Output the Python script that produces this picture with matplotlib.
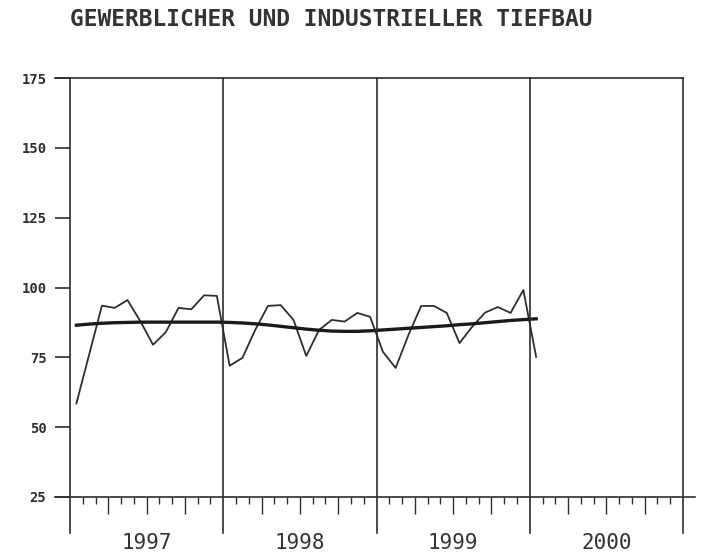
import numpy as np
import matplotlib
matplotlib.use("Agg")
import matplotlib.pyplot as plt

# monthly index values, Jan 1997 .. Jan 2000 (plotted at mid-month)
werte = [58.5, 76, 93.5, 92.7, 95.5, 88, 79.5, 84, 92.7, 92.2, 97.2, 97,
         72, 74.8, 84.8, 93.4, 93.7, 88.4, 75.5, 84.8, 88.4, 87.8, 90.9, 89.5,
         77, 71.2, 83, 93.4, 93.4, 90.9, 80.1, 86, 91, 93, 90.9, 99.1,
         75.2]
trend = [86.5, 86.9, 87.2, 87.4, 87.5, 87.6, 87.6, 87.6, 87.6, 87.6, 87.6, 87.6,
         87.5, 87.3, 87.0, 86.6, 86.1, 85.6, 85.1, 84.7, 84.4, 84.3, 84.3, 84.5,
         84.8, 85.1, 85.4, 85.7, 86.0, 86.3, 86.7, 87.0, 87.4, 87.8, 88.2, 88.5,
         88.8]
jahre = ["1997", "1998", "1999", "2000"]
y_ticks = [25, 50, 75, 100, 125, 150, 175]
titel = "GEWERBLICHER UND INDUSTRIELLER TIEFBAU"

farbe = "#2e2e2e"
mono = "DejaVu Sans Mono"

W, H = 701, 557
fig = plt.figure(figsize=(W / 100, H / 100), dpi=100)
ax = fig.add_axes([70 / W, 60 / H, 613 / W, 419 / H])

x = np.arange(len(werte)) + 0.5
ax.plot(x, werte, color=farbe, lw=1.3)
ax.plot(x, trend, color="#1a1a1a", lw=2.4)

ax.set_xlim(0, 48)
ax.set_ylim(25, 175)

for s in ax.spines.values():
    s.set_visible(False)

# year separators, reaching below the axis
for m in [0, 12, 24, 36, 48]:
    ax.axvline(m, ymin=-36 / 419, ymax=1, color=farbe, lw=1.2, clip_on=False)
# top and bottom lines
ax.plot([-15 / 613 * 48, 48], [175, 175], color=farbe, lw=1.2, clip_on=False)
ax.plot([-15 / 613 * 48, 48 + 12 / 613 * 48], [25, 25], color=farbe, lw=1.2, clip_on=False)

ax.set_yticks(y_ticks)
ax.tick_params(axis="y", direction="out", length=11, width=1.2, color=farbe,
               labelsize=10, labelcolor=farbe, pad=6)
for lab in ax.get_yticklabels():
    lab.set_family(mono)
    lab.set_fontweight("bold")

# monthly ticks below the axis, quarters longer
monate = [m for m in range(48) if m % 12 != 0]
kurz = [m for m in monate if m % 3 != 0]
lang = [m for m in monate if m % 3 == 0]
ax.set_xticks(kurz)
ax.set_xticks(lang, minor=True)
ax.set_xticklabels([])
ax.tick_params(axis="x", which="major", direction="out", length=5, width=1.0, color=farbe)
ax.tick_params(axis="x", which="minor", direction="out", length=12, width=1.0, color=farbe)

for i, j in enumerate(jahre):
    ax.text(i * 12 + 6, 25 - 46 / 2.793, j, ha="center", va="center", fontsize=15,
            family=mono, color="#333333", clip_on=False)

fig.text(70 / W, 1 - 20 / H, titel, ha="left", va="center", fontsize=16.5,
         family=mono, fontweight="bold", color="#333333")

fig.savefig("out.png", dpi=100, facecolor="white")
